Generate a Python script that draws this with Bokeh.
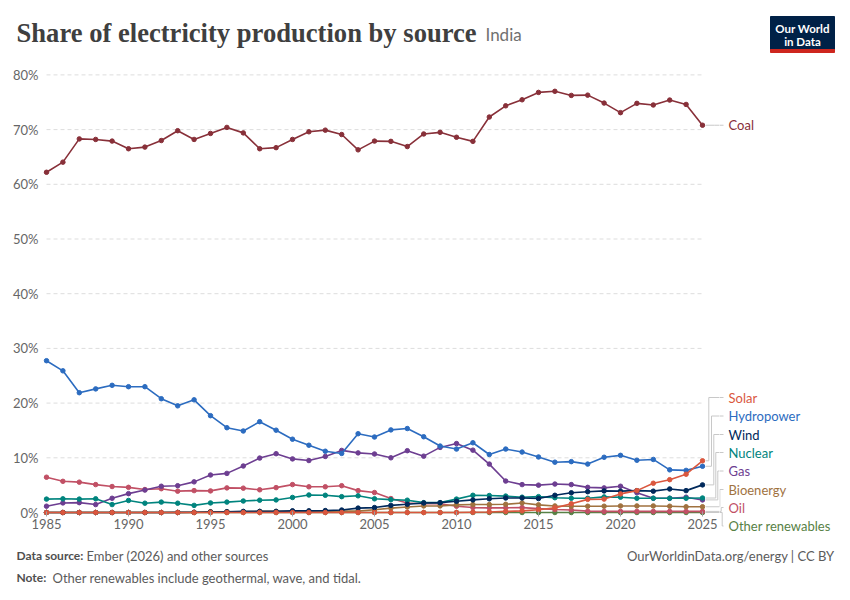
from bokeh.plotting import figure
from bokeh.layouts import column, row
from bokeh.models import Range1d, FixedTicker
from bokeh.core.properties import value
from bokeh.embed import file_html
from bokeh.resources import INLINE

# ---------------- data (share of electricity, %) ----------------
years = list(range(1985, 2026))

coal = [62.2, 64.05, 68.3, 68.2, 67.9, 66.5, 66.8, 68.0, 69.8, 68.2,
        69.3, 70.4, 69.4, 66.5, 66.7, 68.2, 69.6, 69.9, 69.1, 66.3,
        67.9, 67.85, 66.9, 69.2, 69.5, 68.6, 67.85, 72.3, 74.35, 75.45,
        76.8, 77.0, 76.25, 76.3, 74.85, 73.1, 74.8, 74.5, 75.4, 74.6, 70.8]

hydro = [27.75, 25.9, 21.9, 22.6, 23.25, 23.0, 23.0, 20.8, 19.5, 20.6,
         17.7, 15.5, 14.9, 16.6, 15.05, 13.4, 12.3, 11.2, 10.8, 14.4,
         13.8, 15.1, 15.35, 13.85, 12.15, 11.6, 12.75, 10.6, 11.6, 11.05,
         10.15, 9.2, 9.3, 8.85, 10.1, 10.45, 9.55, 9.7, 7.8, 7.7, 8.45]

gas = [1.15, 1.75, 1.8, 1.45, 2.6, 3.45, 4.1, 4.8, 4.9, 5.6,
       6.85, 7.15, 8.5, 9.95, 10.75, 9.8, 9.5, 10.25, 11.35, 10.9,
       10.7, 10.0, 11.3, 10.3, 11.9, 12.6, 11.4, 8.85, 5.75, 5.1,
       5.0, 5.2, 5.1, 4.6, 4.5, 4.8, 3.6, 2.6, 2.6, 2.8, 2.3]

oil = [6.45, 5.7, 5.55, 5.1, 4.75, 4.6, 4.2, 4.35, 3.9, 4.0,
       3.95, 4.5, 4.45, 4.15, 4.55, 5.1, 4.7, 4.7, 4.9, 4.0,
       3.65, 2.55, 1.75, 1.6, 1.6, 1.15, 0.9, 0.85, 0.85, 0.9,
       0.7, 0.55, 0.45, 0.25, 0.2, 0.2, 0.2, 0.2, 0.2, 0.2, 0.2]

nuclear = [2.45, 2.5, 2.45, 2.5, 1.45, 2.2, 1.7, 1.9, 1.7, 1.3,
           1.75, 1.9, 2.1, 2.25, 2.3, 2.75, 3.2, 3.15, 2.9, 3.05,
           2.5, 2.35, 2.25, 1.8, 1.8, 2.45, 3.15, 3.1, 3.0, 2.8,
           2.9, 2.7, 2.6, 2.6, 2.85, 2.8, 2.6, 2.6, 2.6, 2.6, 2.65]

wind = [0.0, 0.0, 0.0, 0.0, 0.0, 0.0, 0.0, 0.0, 0.02, 0.05,
        0.1, 0.15, 0.2, 0.2, 0.2, 0.3, 0.3, 0.35, 0.45, 0.8,
        0.9, 1.3, 1.5, 1.75, 1.8, 2.05, 2.3, 2.5, 2.65, 2.65,
        2.55, 3.15, 3.6, 3.8, 3.95, 3.9, 4.0, 3.9, 4.3, 4.0, 5.05]

solar = [0.0, 0.0, 0.0, 0.0, 0.0, 0.0, 0.0, 0.0, 0.0, 0.0,
         0.0, 0.0, 0.0, 0.0, 0.0, 0.0, 0.0, 0.0, 0.0, 0.0,
         0.0, 0.0, 0.0, 0.0, 0.0, 0.0, 0.05, 0.1, 0.2, 0.3,
         0.5, 0.85, 1.6, 2.4, 2.45, 3.4, 4.0, 5.35, 6.0, 7.0, 9.45]

bioenergy = [0.0, 0.0, 0.0, 0.0, 0.0, 0.0, 0.0, 0.0, 0.0, 0.0,
             0.15, 0.15, 0.15, 0.2, 0.2, 0.2, 0.2, 0.2, 0.25, 0.25,
             0.5, 0.8, 1.0, 1.2, 1.2, 1.4, 1.45, 1.45, 1.5, 1.75,
             1.4, 1.2, 1.15, 1.15, 1.15, 1.2, 1.2, 1.2, 1.15, 1.05, 1.05]

other_renewables = [0.0] * 41

y_ticks = [0, 10, 20, 30, 40, 50, 60, 70, 80]
x_ticks = [1985, 1990, 1995, 2000, 2005, 2010, 2015, 2020, 2025]

# name, values, colour ; drawing order bottom -> top
series = [
    ("Other renewables", other_renewables, "#578145"),
    ("Oil", oil, "#C15065"),
    ("Bioenergy", bioenergy, "#A0723F"),
    ("Gas", gas, "#6D3E91"),
    ("Nuclear", nuclear, "#00847E"),
    ("Wind", wind, "#00295B"),
    ("Hydropower", hydro, "#2C6CC0"),
    ("Solar", solar, "#DA573E"),
    ("Coal", coal, "#883039"),
]

# right-hand labels: page y of label, x of leader bend (page px)
label_pos = {
    "Coal": (None, 714),
    "Solar": (397, 708.3),
    "Hydropower": (415.5, 711),
    "Wind": (434, 713.3),
    "Nuclear": (452, 715.3),
    "Gas": (470.5, 717.3),
    "Bioenergy": (489, 719.3),
    "Oil": (507, 720.7),
    "Other renewables": (525.5, 721.7),
}

# ---------------- geometry helpers (page pixels) ----------------
X0, PXY = 46.0, 16.4      # page x of 1985, px per year
Y0, PYV = 512.0, 5.47     # page y of 0%, px per percentage point
W = 845
SPLIT = 719               # page x where the label panel starts


def yv(py):
    return (Y0 - py) / PYV


def xv(px):
    return 1985 + (px - X0) / PXY


FONT = value("Lato")
GRID = "#dddddd"

# ---------------- main chart ----------------
main = figure(width=SPLIT, height=488, output_backend="svg", toolbar_location=None,
              x_range=Range1d(xv(40), xv(SPLIT)), y_range=Range1d(yv(516), yv(56)),
              min_border=0, min_border_left=40, min_border_right=0,
              min_border_top=0, min_border_bottom=28)
main.frame_align = False
main.outline_line_color = None
main.xgrid.visible = False
main.ygrid.visible = False
main.background_fill_color = "white"
main.border_fill_color = "white"

# dashed gridlines from the tick list
main.segment(x0=[years[0]] * len(y_ticks), x1=[years[-1]] * len(y_ticks),
             y0=y_ticks, y1=y_ticks, line_color=GRID, line_width=1, line_dash="4 3")

xa = main.xaxis[0]
xa.ticker = FixedTicker(ticks=x_ticks)
xa.axis_line_color = None
xa.major_tick_in = 5
xa.major_tick_out = 0
xa.major_tick_line_color = "#a0a0a0"
xa.minor_tick_line_color = None
xa.major_label_text_font = "Lato"
xa.major_label_text_font_size = "13px"
xa.major_label_text_color = "#666666"
xa.major_label_standoff = 2

ya = main.yaxis[0]
ya.ticker = FixedTicker(ticks=y_ticks)
ya.major_label_overrides = {t: f"{t}%" for t in y_ticks}
ya.axis_line_color = None
ya.major_tick_line_color = None
ya.minor_tick_line_color = None
ya.major_tick_in = 0
ya.major_tick_out = 0
ya.major_label_text_font = "Lato"
ya.major_label_text_font_size = "13px"
ya.major_label_text_color = "#666666"
ya.major_label_standoff = 2

for name, vals, col in series:
    main.line(years, vals, line_color=col, line_width=1.6)
    main.scatter(years, vals, size=4.5, color=col)

# ---------------- side panel with labels ----------------
side = figure(width=W - SPLIT, height=488, output_backend="svg", toolbar_location=None,
              x_range=Range1d(SPLIT, W), y_range=Range1d(yv(544), yv(56)),
              min_border=0)
side.frame_align = False
side.outline_line_color = None
side.axis.visible = False
side.grid.visible = False

LEADER = "#c8c8c8"
m_xs, m_ys, s_xs, s_ys = [], [], [], []
for name, vals, col in series:
    py, bend = label_pos[name]
    end = vals[-1]
    ly = end if py is None else yv(py)
    pxs = [705.5, bend, bend, 723]
    pys = [end, end, ly, ly]
    m_xs.append([xv(p) for p in pxs])
    m_ys.append(pys)
    s_xs.append(pxs)
    s_ys.append(pys)
    side.text(x=[728], y=[ly], text=[name], text_font=FONT, text_font_size="13px",
              text_color=col, text_baseline="middle", text_align="left")

main.multi_line(m_xs, m_ys, line_color=LEADER, line_width=1, level="underlay")
side.multi_line(s_xs, s_ys, line_color=LEADER, line_width=1)

# ---------------- header ----------------
head = figure(width=W, height=56, output_backend="svg", toolbar_location=None,
              x_range=Range1d(0, W), y_range=Range1d(56, 0), min_border=0)
head.frame_align = False
head.outline_line_color = None
head.axis.visible = False
head.grid.visible = False
head.text(x=[16], y=[32], text=["Share of electricity production by source"],
          text_font=value("Liberation Serif"), text_font_size="26.6px",
          text_font_style="bold", text_color="#3f3f3f", text_baseline="middle")
head.text(x=[485], y=[34], text=["India"], text_font=FONT, text_font_size="17px",
          text_color="#707070", text_baseline="middle")
head.quad(left=[770], right=[834], top=[16], bottom=[49], color="#002147")
head.quad(left=[770], right=[834], top=[49], bottom=[52], color="#CE261E")
head.text(x=[802, 802], y=[27.5, 40.5], text=["Our World", "in Data"],
          text_font=FONT, text_font_size="11.5px", text_font_style="bold",
          text_color="white", text_align="center", text_baseline="middle")

# ---------------- footer ----------------
foot = figure(width=W, height=48, output_backend="svg", toolbar_location=None,
              x_range=Range1d(0, W), y_range=Range1d(592, 544), min_border=0)
foot.frame_align = False
foot.outline_line_color = None
foot.axis.visible = False
foot.grid.visible = False
FC = "#5b5b5b"
foot.text(x=[16, 16], y=[555, 577], text=["Data source:", "Note:"], text_font=FONT,
          text_font_size="12px", text_font_style="bold", text_color="#4f4f4f",
          text_baseline="middle")
foot.text(x=[86, 52], y=[555, 577],
          text=["Ember (2026) and other sources",
                "Other renewables include geothermal, wave, and tidal."],
          text_font=FONT, text_font_size="13px", text_color=FC, text_baseline="middle")
foot.text(x=[834], y=[555], text=["OurWorldinData.org/energy | CC BY"], text_font=FONT,
          text_font_size="13px", text_color=FC, text_baseline="middle", text_align="right")

layout = column(head, row(main, side), foot)
open("out.html", "w").write(file_html(layout, INLINE))
